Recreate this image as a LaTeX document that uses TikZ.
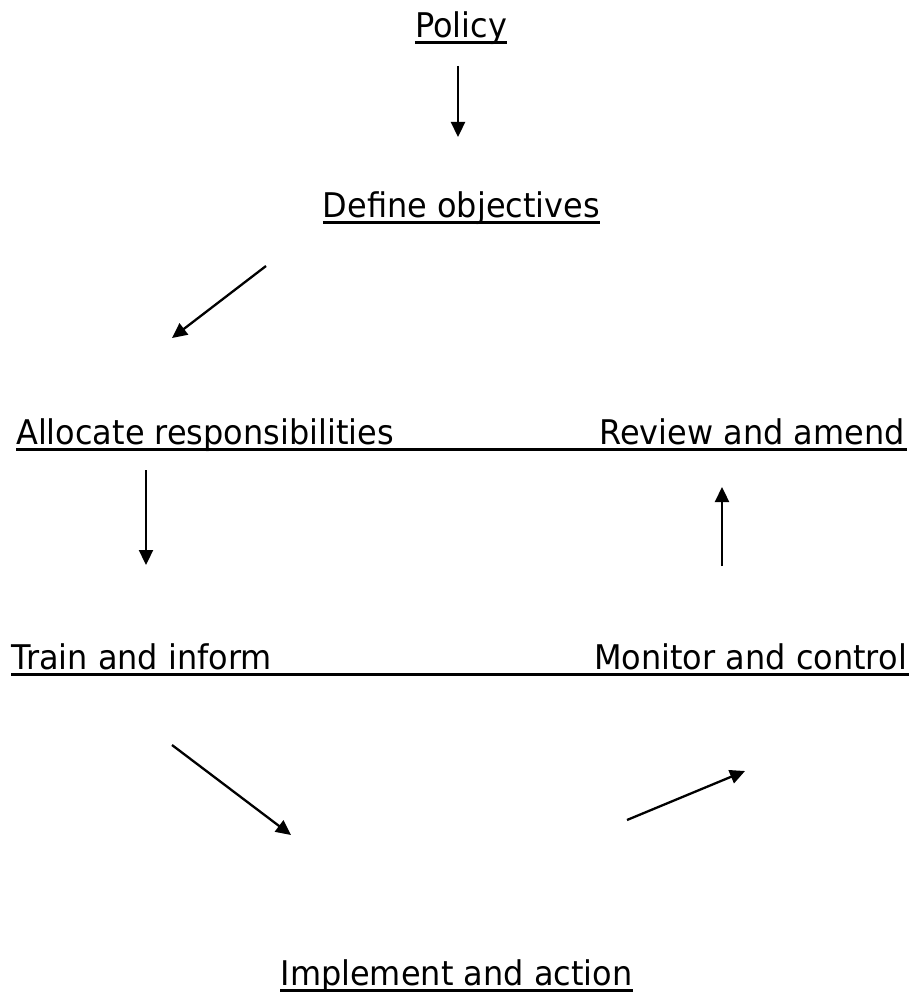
\documentclass[tikz,border=0pt]{standalone}
\usepackage{fontspec}
\setmainfont[FakeStretch=0.94]{DejaVu Sans}
\usetikzlibrary{arrows.meta}
\begin{document}
\begin{tikzpicture}[x=1pt,y=-1pt,
  lbl/.style={inner sep=0pt, font=\fontsize{34}{40}\selectfont},
  uline/.style={line width=3pt},
  conn/.style={line width=2.3pt, -{Triangle[length=15pt,width=14pt]}}]
\useasboundingbox (0,0) rectangle (915,992);
% labels
\node[lbl, anchor=base] (pol) at (461,37.7) {Policy};
\node[lbl, anchor=base] (def) at (461.5,217.7) {Define objectives};
\node[lbl, anchor=base west] (alloc) at (16,444.5) {Allocate responsibilities};
\node[lbl, anchor=base east] (rev) at (905,444.5) {Review and amend};
\node[lbl, anchor=base west] (train) at (11,669) {Train and inform};
\node[lbl, anchor=base east] (mon) at (907,669) {Monitor and control};
\node[lbl, anchor=base] (impl) at (456.5,985) {Implement and action};
% underlines
\draw[uline] ([yshift=-5pt]pol.base west) -- ([yshift=-5pt]pol.base east);
\draw[uline] ([yshift=-5pt]def.base west) -- ([yshift=-5pt]def.base east);
\draw[uline] ([yshift=-5pt]alloc.base west) -- ([yshift=-5pt,xshift=2pt]rev.base east);
\draw[uline] ([yshift=-5pt]train.base west) -- ([yshift=-5pt,xshift=2pt]mon.base east);
\draw[uline] ([yshift=-5pt]impl.base west) -- ([yshift=-5pt]impl.base east);
% connector end points
\coordinate (a1s) at (458,66);   \coordinate (a1e) at (458,137);
\coordinate (a2s) at (266,266);  \coordinate (a2e) at (172,338);
\coordinate (a3s) at (146,470);  \coordinate (a3e) at (146,565);
\coordinate (a4s) at (722,566);  \coordinate (a4e) at (722,487);
\coordinate (a5s) at (172,745);  \coordinate (a5e) at (291,835);
\coordinate (a6s) at (627,820);  \coordinate (a6e) at (745,771);
% connectors
\draw[conn] (a1s) -- (a1e);
\draw[conn] (a2s) -- (a2e);
\draw[conn] (a3s) -- (a3e);
\draw[conn] (a4s) -- (a4e);
\draw[conn] (a5s) -- (a5e);
\draw[conn] (a6s) -- (a6e);
\end{tikzpicture}
\end{document}
